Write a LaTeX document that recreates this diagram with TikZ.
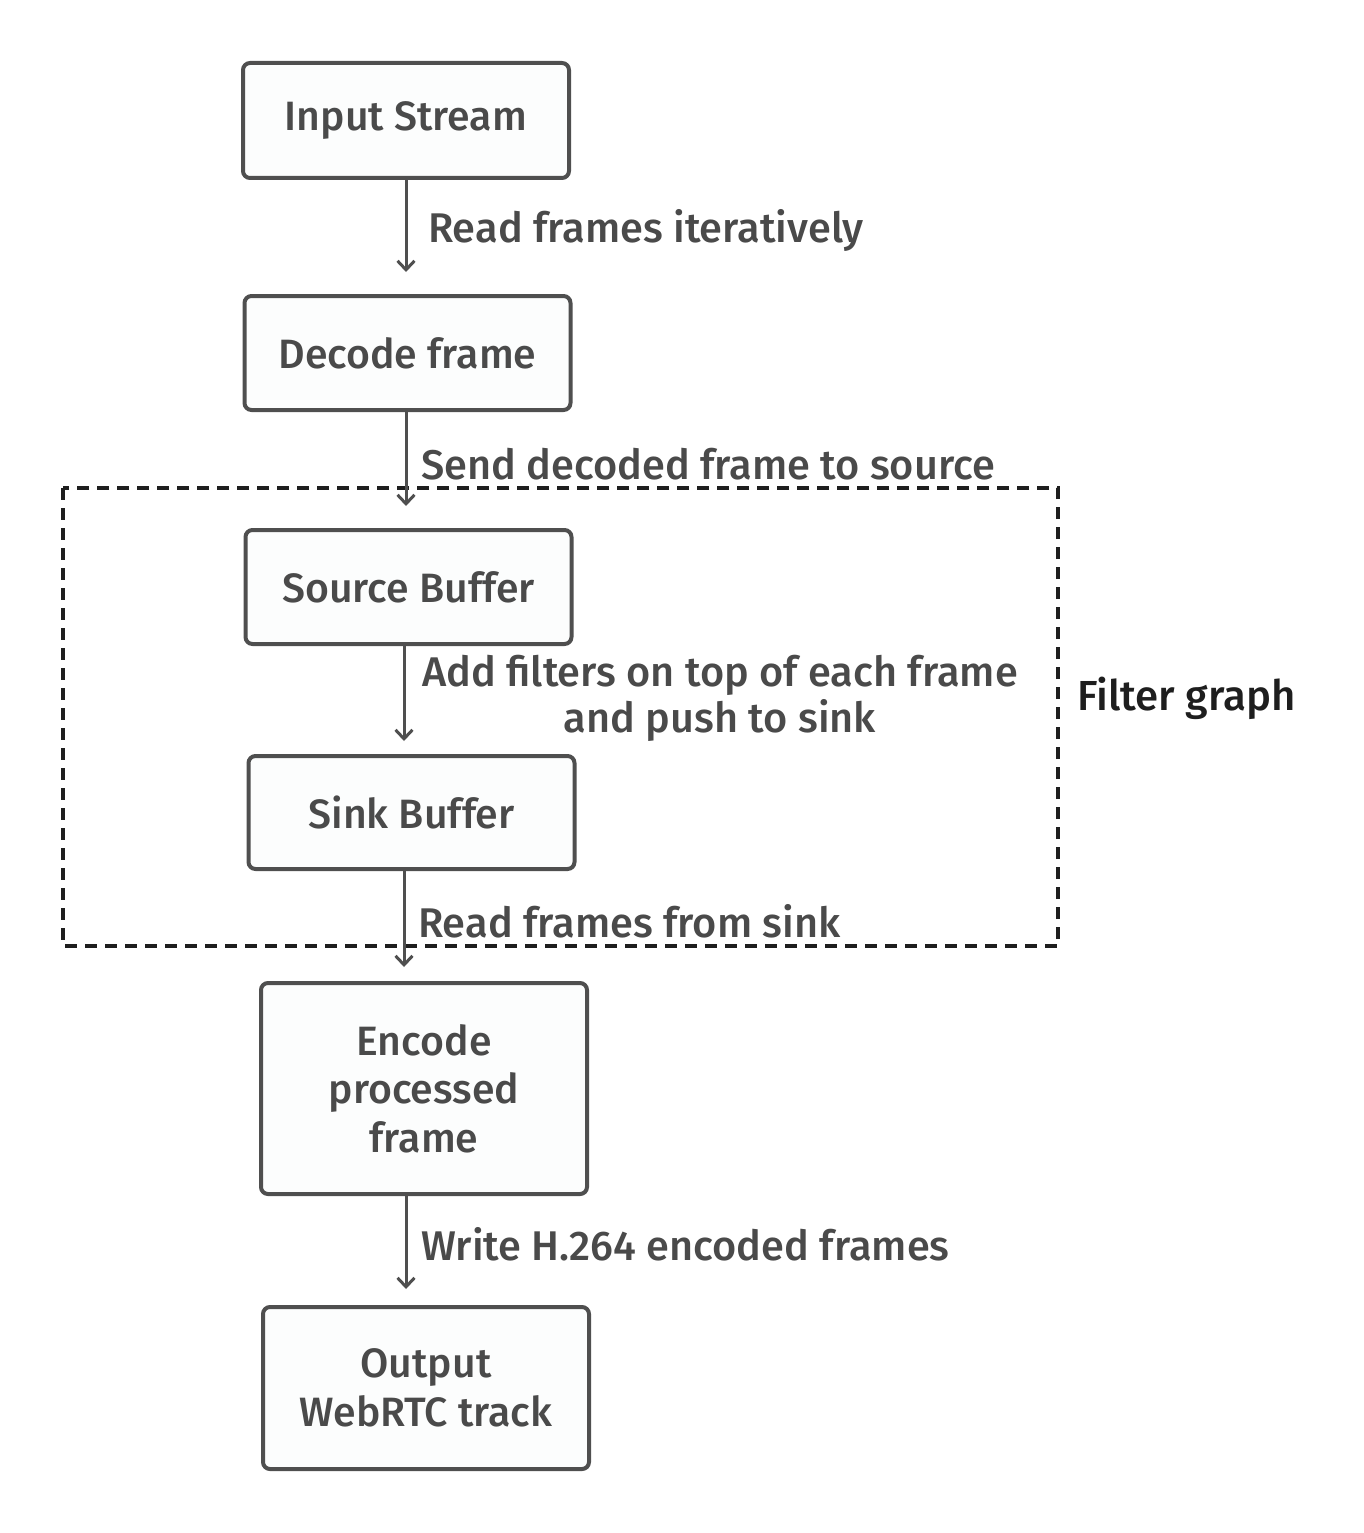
\documentclass[tikz,border=0pt]{standalone}
\usepackage{fontspec}
\setmainfont{Fira Sans Medium}
\usetikzlibrary{arrows.meta,calc}
\definecolor{boxline}{HTML}{4F4F4F}
\definecolor{boxfill}{HTML}{FCFDFD}
\definecolor{txt}{HTML}{4A4A4A}
\definecolor{dashc}{HTML}{1E1E1E}
\begin{document}
\begin{tikzpicture}[x=1pt,y=-1pt,
  procbox/.style={draw=boxline,fill=boxfill,line width=4pt,rounded corners=7pt,
    minimum width=326pt,align=center,text=txt,font=\fontsize{41}{48.5}\selectfont,inner sep=0pt},
  arr/.style={draw=boxline,line width=3pt,-{Straight Barb[length=9pt,width=17pt,line width=3pt]}},
  lbl/.style={text=txt,font=\fontsize{41.5}{46}\selectfont,inner sep=0pt},
  grp/.style={draw=dashc,line width=3.5pt,dash pattern=on 12pt off 8pt}
]
\useasboundingbox (0,0) rectangle (1364,1533);
\node[procbox,minimum height=115pt] (in)  at (406,120.5) {Input Stream};
\node[procbox,minimum height=114pt] (dec) at (407.5,353) {Decode frame};
\node[procbox,minimum height=114pt] (src) at (408.5,587) {Source Buffer};
\node[procbox,minimum height=113pt] (snk) at (411.5,812.5) {Sink Buffer};
\node[procbox,minimum height=211pt] (enc) at (424,1088.5) {Encode\\processed\\frame};
\node[procbox,minimum height=162pt] (out) at (426,1388) {Output\\WebRTC track};
\draw[grp] (63,488) rectangle (1058,946);
\node[inner sep=0pt,anchor=west,font=\fontsize{42}{46}\selectfont,text=dashc] (fg) at (1077,698) {Filter graph};
\coordinate (e1) at (406,272);
\coordinate (e2) at (406,506);
\coordinate (e3) at (404,741);
\coordinate (e4) at (404,967);
\coordinate (e5) at (406,1289);
\draw[arr] (in.south -| e1) -- (e1);
\draw[arr] (dec.south -| e2) -- (e2);
\draw[arr] (src.south -| e3) -- (e3);
\draw[arr] (snk.south -| e4) -- (e4);
\draw[arr] (enc.south -| e5) -- (e5);
\node[lbl,anchor=west] (l1) at (428,230) {Read frames iteratively};
\node[lbl,anchor=west] (l2) at (421,464) {Send decoded frame to source};
\node[lbl,align=center] (l3) at (720,698) {Add filters on top of each frame\\and push to sink};
\node[lbl,anchor=west] (l4) at (418,921) {Read frames from sink};
\node[lbl,anchor=west] (l5) at (421,1244) {Write H.264 encoded frames};
\end{tikzpicture}
\end{document}
